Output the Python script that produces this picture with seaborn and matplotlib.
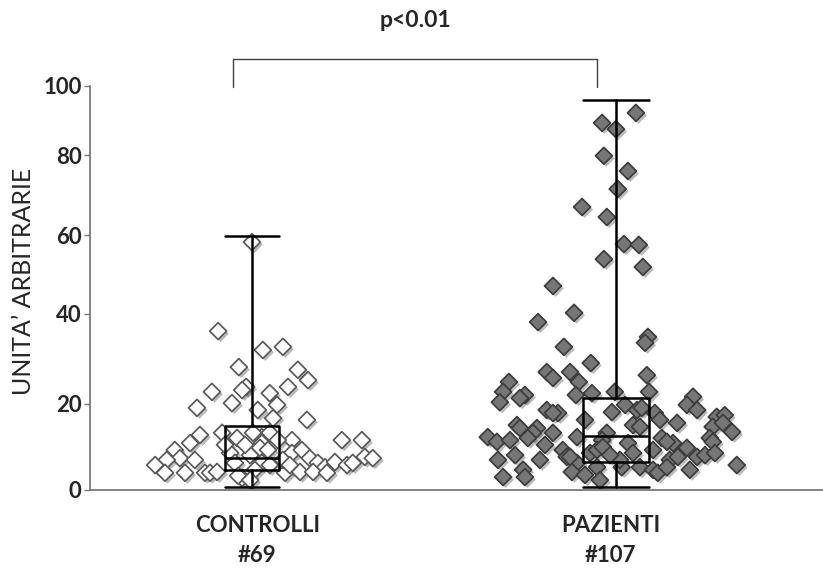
import numpy as np
import pandas as pd
import matplotlib
matplotlib.use("Agg")
import matplotlib.pyplot as plt
import matplotlib.patheffects as pe
from matplotlib.transforms import blended_transform_factory
import seaborn as sns

# ---------------- data ----------------
groups = ["CONTROLLI\n#69", "PAZIENTI\n#107"]

ctrl_values = [58.2, 36.2, 32.0, 32.7, 28.2, 27.6, 25.3, 22.7, 23.8, 23.1,
               22.4, 23.8, 19.1, 20.2, 19.8, 18.6, 16.7, 16.3, 12.8, 13.3,
               10.9, 9.3, 12.1, 12.3, 13.3, 11.6, 11.6, 11.6, 7.4, 7.0,
               5.8, 4.0, 4.0, 4.0, 4.0, 4.2, 8.6, 6.3, 2.8, 3.3,
               10.9, 9.8, 9.3, 8.6, 9.3, 7.4, 6.3, 5.3, 6.5, 5.8,
               6.3, 7.7, 7.4, 6.3, 5.8, 4.0, 4.2, 4.2, 4.0, 7.0,
               8.1, 4.7, 10.5, 11.6, 13.3, 10.5, 7.0, 5.8, 2.3]
ctrl_jitter = [0.000, -0.093, 0.030, 0.085, -0.036, 0.126, 0.154, -0.110, -0.016, -0.027,
               0.049, 0.099, -0.151, -0.055, 0.069, 0.016, 0.058, 0.151, -0.143, -0.082,
               -0.170, -0.212, -0.041, 0.027, 0.049, 0.110, 0.247, 0.302, -0.198, -0.234,
               -0.266, -0.239, -0.184, -0.129, -0.115, -0.096, -0.060, -0.047, -0.027, -0.038,
               0.027, 0.022, 0.044, 0.110, 0.137, 0.159, 0.181, 0.201, 0.228, 0.261,
               0.277, 0.310, 0.332, 0.027, 0.049, 0.091, 0.132, 0.168, 0.206, 0.085,
               -0.005, 0.008, -0.019, 0.071, 0.003, -0.074, -0.157, 0.104, -0.005]

paz_values = [92.2, 89.3, 87.5, 79.8, 76.0, 71.5, 67.0, 64.5, 57.7, 57.5,
              53.9, 51.9, 47.1, 40.3, 38.2, 34.9, 33.6, 32.7, 29.1, 27.1,
              25.8, 27.1, 24.9, 24.9, 22.7, 20.4, 22.0, 21.3, 22.0, 22.4,
              22.7, 26.4, 22.7, 18.6, 17.9, 17.9, 18.1, 18.6, 19.1, 17.9,
              21.6, 19.8, 18.6, 15.6, 17.0, 17.4, 14.7, 15.6, 13.5, 15.1,
              14.4, 14.4, 13.3, 13.3, 12.3, 11.2, 12.1, 12.3, 13.3, 11.6,
              15.1, 14.7, 12.1, 10.9, 11.2, 9.8, 12.1, 11.2, 7.0, 7.0,
              9.3, 7.7, 6.3, 8.6, 9.3, 10.0, 10.9, 8.6, 9.3, 7.0,
              7.7, 7.7, 8.1, 8.6, 3.0, 4.7, 3.0, 4.2, 5.3, 5.3,
              5.3, 4.7, 4.0, 5.3, 5.8, 7.7, 7.0, 10.5, 8.1, 3.5,
              8.1, 16.3, 16.3, 19.8, 4.7, 11.6, 2.3]
paz_jitter = [0.055, -0.038, 0.000, -0.033, 0.033, 0.005, -0.093, -0.025, 0.022, 0.063,
              -0.033, 0.074, -0.173, -0.115, -0.214, 0.088, 0.080, -0.143, -0.069, -0.190,
              -0.173, -0.126, -0.102, -0.294, -0.310, -0.319, -0.250, -0.264, -0.110, -0.066,
              -0.003, 0.085, 0.091, -0.190, -0.159, -0.173, -0.011, 0.058, 0.071, 0.107,
              0.212, 0.195, 0.223, 0.168, 0.277, 0.299, 0.266, 0.294, 0.319, -0.272,
              -0.264, -0.217, -0.228, -0.173, -0.352, -0.327, -0.242, -0.107, -0.025, -0.038,
              0.047, 0.066, 0.126, 0.157, 0.140, 0.195, 0.258, 0.266, -0.324, -0.209,
              -0.146, -0.135, -0.107, -0.071, -0.052, -0.036, 0.033, 0.047, 0.102, 0.148,
              0.170, 0.223, 0.245, 0.272, -0.310, -0.255, -0.250, -0.121, -0.052, 0.016,
              0.066, 0.102, 0.115, 0.140, 0.332, -0.126, 0.011, -0.195, -0.277, -0.085,
              -0.016, 0.121, -0.085, 0.025, 0.203, -0.291, -0.044]

# box summaries (min, q1, median, q3, max) as drawn in the reference
ctrl_box = [0.8, 4.6, 7.5, 15.0, 59.7]
paz_box = [0.8, 6.6, 12.6, 21.3, 96.0]

yticks = [0, 20, 40, 60, 80, 100]
# the reference axis has uneven tick spacing: relative heights of each tick
ytick_height = [0, 86, 176, 255, 335, 404]
p_text = "p<0.01"
ylabel = "UNITA\u2019 ARBITRARIE"

# ---------------- style ----------------
sns.set_style("white")
plt.rcParams["font.family"] = ["Lato", "DejaVu Sans"]

fig = plt.figure(figsize=(8.23, 5.74), dpi=100)
ax = fig.add_axes([90 / 823, 1 - 490 / 574, 733 / 823, 404 / 574])

# non-uniform y scale reproducing the reference tick spacing
_vals = np.array([-100.0] + yticks + [200.0])
_pos = np.array([-430.0] + ytick_height + [749.0])
def _fwd(v):
    return np.interp(v, _vals, _pos)
def _inv(p):
    return np.interp(p, _pos, _vals)
ax.set_yscale("function", functions=(_fwd, _inv))

df_c = pd.DataFrame({"x": 0 + np.array(ctrl_jitter), "y": ctrl_values})
df_p = pd.DataFrame({"x": 1 + np.array(paz_jitter), "y": paz_values})

shadow = [pe.SimplePatchShadow(offset=(1.8, -1.8), shadow_rgbFace="#555555", alpha=0.4), pe.Normal()]

sns.scatterplot(data=df_c, x="x", y="y", marker="D", s=74, color="white",
                edgecolor="#5a5a5a", linewidth=1.25, ax=ax, legend=False, zorder=2)
sns.scatterplot(data=df_p, x="x", y="y", marker="D", s=74, color="#767676",
                edgecolor="#3c3c3c", linewidth=1.25, ax=ax, legend=False, zorder=2)
for coll in ax.collections:
    coll.set_path_effects(shadow)

def _stats(b):
    return dict(whislo=b[0], q1=b[1], med=b[2], q3=b[3], whishi=b[4], fliers=[])

lp = dict(color="black", linewidth=1.8)
ax.bxp([_stats(ctrl_box), _stats(paz_box)], positions=[0, 1], widths=[0.147, 0.183],
       capwidths=[0.147, 0.183], showfliers=False, boxprops=lp, whiskerprops=lp,
       capprops=lp, medianprops=lp, manage_ticks=False, zorder=5)

ax.set_xlim(-0.445, 1.569)
ax.set_ylim(0, 100)
ax.set_yticks(yticks)
ax.set_yticklabels([str(t) for t in yticks], fontsize=16, fontweight="bold")
ax.set_xticks([0.015, 0.985])
ax.set_xticklabels(groups, fontsize=16, fontweight="bold", linespacing=1.5)
ax.set_xlabel("")
ax.set_ylabel("")

for s in ["top", "right"]:
    ax.spines[s].set_visible(False)
for s in ["left", "bottom"]:
    ax.spines[s].set_color("#7a7a7a")
    ax.spines[s].set_linewidth(1.3)
ax.tick_params(axis="y", which="major", length=4, width=1, color="#7a7a7a", pad=2, left=True)
ax.tick_params(axis="x", length=0, pad=18)

fig.text(24 / 823, 1 - 281 / 574, ylabel, rotation=90, ha="center", va="center", fontsize=18)

trans = blended_transform_factory(ax.transData, ax.transAxes)
bx0, bx1 = -0.051, 0.949
ax.plot([bx0, bx0, bx1, bx1], [0.9968, 1.0668, 1.0668, 0.9968], transform=trans,
        clip_on=False, color="#404040", linewidth=1.0)
ax.text(0.448, 1.163, p_text, transform=trans, ha="center", va="center",
        fontsize=16.5, fontweight="bold")

fig.savefig("out.png", dpi=100)
